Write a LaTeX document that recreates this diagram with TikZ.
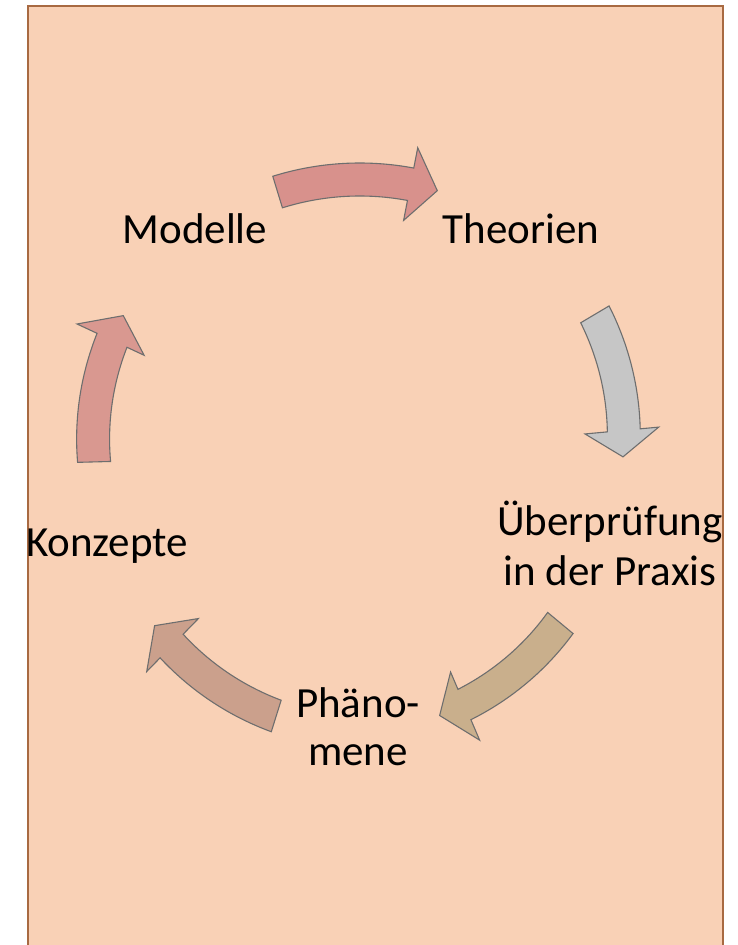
\documentclass[tikz,border=0pt]{standalone}
\usepackage{fontspec}
\setmainfont{Carlito}
\definecolor{bgfill}{HTML}{F9D1B6}
\definecolor{frame}{HTML}{A86A42}
\definecolor{aoutline}{HTML}{6E6E6E}
\definecolor{atop}{HTML}{D8918C}
\definecolor{aright}{HTML}{C6C6C6}
\definecolor{alowr}{HTML}{C9AF8C}
\definecolor{alowl}{HTML}{CBA08C}
\definecolor{aleft}{HTML}{D99890}
\tikzset{
  lbl/.style={font=\fontsize{43}{50}\selectfont, inner sep=0pt, anchor=base, text=black},
  cyc/.style={draw=aoutline, line width=1.1pt, line join=miter}
}
% cycarrow{tail angle}{tip angle}{tail radius}{head radius}{fill}
% centre (358,455); band half width 16.5, head half width 37, head length 5.7 deg
\newcommand\cycarrow[5]{%
  \pgfmathsetmacro\hb{#2-5.7}%
  \pgfmathsetmacro\rk{(#4-#3)/(#2-#1)}%
  \draw[cyc, fill=#5]
    plot[domain=#1:\hb, samples=40] ({358+(#3+\rk*(\x-#1)+16.5)*cos(\x)},{455+(#3+\rk*(\x-#1)+16.5)*sin(\x)})
    -- ({358+(#4+37)*cos(\hb)},{455+(#4+37)*sin(\hb)})
    -- ({358+#4*cos(#2)},{455+#4*sin(#2)})
    -- ({358+(#4-37)*cos(\hb)},{455+(#4-37)*sin(\hb)})
    -- plot[domain=\hb:#1, samples=40] ({358+(#3+\rk*(\x-#1)-16.5)*cos(\x)},{455+(#3+\rk*(\x-#1)-16.5)*sin(\x)})
    -- cycle;}
\begin{document}
\begin{tikzpicture}[x=1pt,y=-1pt]
\useasboundingbox (0,0) rectangle (738,945);
\fill[white] (0,0) rectangle (738,945);
\draw[fill=bgfill, draw=frame, line width=2pt] (28,6) rectangle (723,990);
\cycarrow{253}{286.7}{275}{276}{atop}
\cycarrow{329.3}{360.4}{275.5}{265}{aright}
\cycarrow{39.7}{72.6}{263}{273}{alowr}
\cycarrow{107.4}{140}{273.5}{265.5}{alowl}
\cycarrow{178.5}{210.7}{264}{273}{aleft}
\node[lbl] (modelle) at (195,243) {Modelle};
\node[lbl] (theorien) at (521,243) {Theorien};
\node[lbl] (ueber1) at (610,535) {Überprüfung};
\node[lbl] (ueber2) at (610,585) {in der Praxis};
\node[lbl] (phaeno1) at (358,717) {Phäno-};
\node[lbl] (phaeno2) at (358,765) {mene};
\node[lbl] (konzepte) at (107,556) {Konzepte};
\end{tikzpicture}
\end{document}
